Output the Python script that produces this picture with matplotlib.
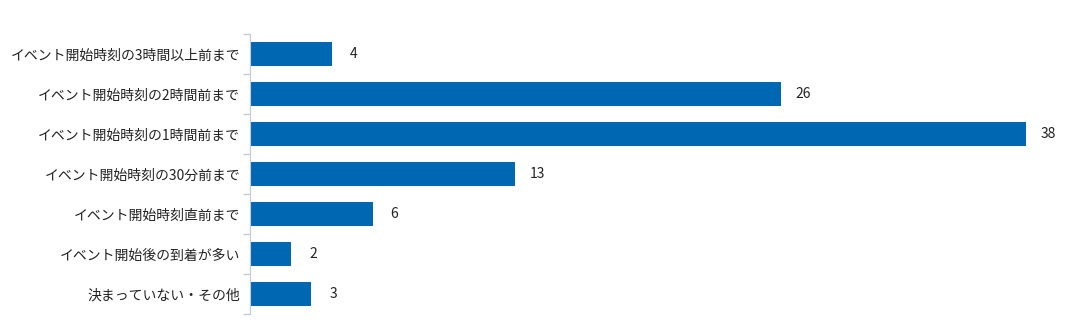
import numpy as np
import matplotlib.pyplot as plt
from matplotlib.transforms import offset_copy

plt.rcParams['font.family'] = ['Noto Sans CJK JP', 'DejaVu Sans']

categories = [
    'イベント開始時刻の3時間以上前まで',
    'イベント開始時刻の2時間前まで',
    'イベント開始時刻の1時間前まで',
    'イベント開始時刻の30分前まで',
    'イベント開始時刻直前まで',
    'イベント開始後の到着が多い',
    '決まっていない・その他',
]
counts = [4, 26, 38, 13, 6, 2, 3]

fig = plt.figure(figsize=(10.88, 3.29), dpi=100)
ax = fig.add_axes([250 / 1088, 15 / 329, (1026 - 250) / 1088, 280 / 329])

y = np.arange(len(categories))
ax.barh(y, counts, height=0.6, color='#0068b3')
ax.set_xlim(0, 38)
ax.set_ylim(len(categories) - 0.5, -0.5)

# value labels just past the end of each bar
for yi, v in zip(y, counts):
    tr = offset_copy(ax.transData, fig=fig, x=22, y=0, units='dots')
    ax.text(v, yi, str(v), transform=tr, ha='center', va='center',
            fontsize=10, color='#222222', clip_on=False)

ax.set_yticks(y)
ax.set_yticklabels(categories, fontsize=10, color='#222222')
ax.set_yticks(np.arange(-0.5, len(categories)), minor=True)
ax.tick_params(axis='y', which='major', length=0, pad=7)
ax.tick_params(axis='y', which='minor', length=5, color='#c3cbd8', width=1)
ax.set_xticks([])

for s in ['top', 'right', 'bottom']:
    ax.spines[s].set_visible(False)
ax.spines['left'].set_color('#c3cbd8')

fig.savefig('out.png', dpi=100)
